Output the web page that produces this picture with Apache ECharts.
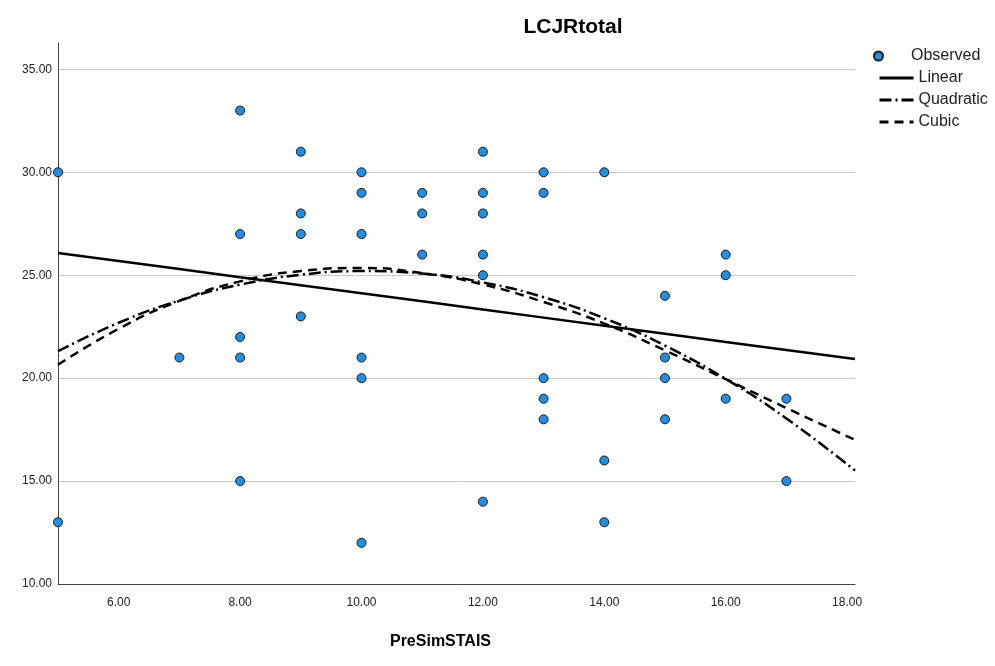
<!DOCTYPE html>
<html>
<head>
<meta charset="utf-8">
<script src="https://cdn.jsdelivr.net/npm/echarts@6/dist/echarts.min.js"></script>
<style>html,body{margin:0;padding:0;background:#fff;}#c{width:995px;height:666px;}</style>
</head>
<body>
<div id="c"></div>
<script>
// Observed points (PreSimSTAIS, LCJRtotal)
var obsX = [5,5, 7, 8,8,8,8,8, 9,9,9,9, 10,10,10,10,10,10, 11,11,11, 12,12,12,12,12,12, 13,13,13,13,13, 14,14,14, 15,15,15,15, 16,16,16, 17,17];
var obsY = [30,13, 21, 33,27,22,21,15, 31,28,27,23, 30,29,27,21,20,12, 29,28,26, 31,29,28,26,25,14, 30,29,20,19,18, 30,16,13, 24,21,20,18, 26,25,19, 19,15];

// Fitted curves
var fitX      = [5, 6, 7, 8, 9, 10, 11, 12, 13, 14, 15, 16, 17, 18.13];
var linearY   = [26.08, 25.69, 25.30, 24.90, 24.51, 24.12, 23.73, 23.33, 22.94, 22.55, 22.16, 21.76, 21.37, 20.93];
var quadY     = [21.31, 22.69, 23.77, 24.54, 25.02, 25.20, 25.08, 24.65, 23.93, 22.91, 21.58, 19.96, 18.04, 15.51];
var cubicY    = [20.65, 22.40, 23.75, 24.70, 25.20, 25.35, 25.10, 24.55, 23.70, 22.65, 21.35, 19.95, 18.55, 17.00];

var yTicks = [10, 15, 20, 25, 30, 35];
var xTickLabels = [6, 8, 10, 12, 14, 16, 18];

function pairs(xs, ys){ var o=[]; for (var i=0;i<xs.length;i++) o.push([xs[i], ys[i]]); return o; }

var FONT = 'Liberation Sans, Arial, sans-serif';
var chart = echarts.init(document.getElementById('c'), null, {renderer:'canvas'});
chart.setOption({
  animation: false,
  backgroundColor: '#fff',
  title: {
    text: 'LCJRtotal', left: 568, top: 12, textAlign: 'center',
    textStyle: {fontFamily: FONT, fontSize: 21, fontWeight: 'bold', color: '#000'}
  },
  legend: [
    {
      data: ['Observed'], orient: 'vertical', left: 868, top: 43,
      itemWidth: 9, itemHeight: 9, itemGap: 0, icon: 'circle',
      textStyle: {fontFamily: FONT, fontSize: 16, color: '#222', padding: [0,0,0,23]}
    },
    {
      data: ['Linear', 'Quadratic', 'Cubic'], orient: 'vertical', left: 873, top: 65,
      itemWidth: 34, itemHeight: 16, itemGap: 6,
      itemStyle: {color: 'rgba(0,0,0,0)', borderColor: 'rgba(0,0,0,0)', borderWidth: 0, opacity: 0},
      lineStyle: {width: 3},
      textStyle: {fontFamily: FONT, fontSize: 16, color: '#222'}
    }
  ],
  grid: {left: 58, right: 140, top: 43, bottom: 82, containLabel: false},
  xAxis: {
    type: 'value', min: 5, max: 18.13, interval: 1,
    name: 'PreSimSTAIS', nameLocation: 'middle', nameGap: 50,
    nameTextStyle: {fontFamily: FONT, fontSize: 16, fontWeight: 'bold', color: '#000', padding: [0, 32, 0, 0]},
    axisLine: {show: true, lineStyle: {color: '#444', width: 1}},
    axisTick: {show: false},
    splitLine: {show: false},
    axisLabel: {
      interval: 0, margin: 13, fontFamily: FONT, fontSize: 12, color: '#222',
      formatter: function(v){ return xTickLabels.indexOf(v) >= 0 ? v.toFixed(2) : ''; }
    }
  },
  yAxis: {
    type: 'value', min: 10, max: 36.28, interval: 5,
    axisLine: {show: true, lineStyle: {color: '#444', width: 1}},
    axisTick: {show: false},
    splitLine: {show: true, lineStyle: {color: ['#c8c8c8','#c8c8c8','#c8c8c8','#c8c8c8','#c8c8c8','#c8c8c8','rgba(0,0,0,0)'], width: 1}},
    axisLabel: {
      margin: 6, fontFamily: FONT, fontSize: 12, color: '#222',
      formatter: function(v){ return yTicks.indexOf(v) >= 0 ? v.toFixed(2) : ''; }
    }
  },
  series: [
    {
      name: 'Linear', type: 'line', data: pairs(fitX, linearY), symbol: 'none',
      lineStyle: {color: '#000', width: 2.5, type: 'solid'}, itemStyle: {color: '#000'}, z: 3
    },
    {
      name: 'Quadratic', type: 'line', data: pairs(fitX, quadY), symbol: 'none', smooth: true,
      lineStyle: {color: '#000', width: 2.5, type: [12, 4, 2, 4]}, itemStyle: {color: '#000'}, z: 3
    },
    {
      name: 'Cubic', type: 'line', data: pairs(fitX, cubicY), symbol: 'none', smooth: true,
      lineStyle: {color: '#000', width: 2.5, type: [9, 6]}, itemStyle: {color: '#000'}, z: 3
    },
    {
      name: 'Observed', type: 'scatter', data: pairs(obsX, obsY), symbol: 'circle', symbolSize: 9,
      itemStyle: {color: '#1e8fe6', borderColor: '#1a1a1a', borderWidth: 1, opacity: 1}, z: 4
    }
  ]
});
</script>
</body>
</html>
